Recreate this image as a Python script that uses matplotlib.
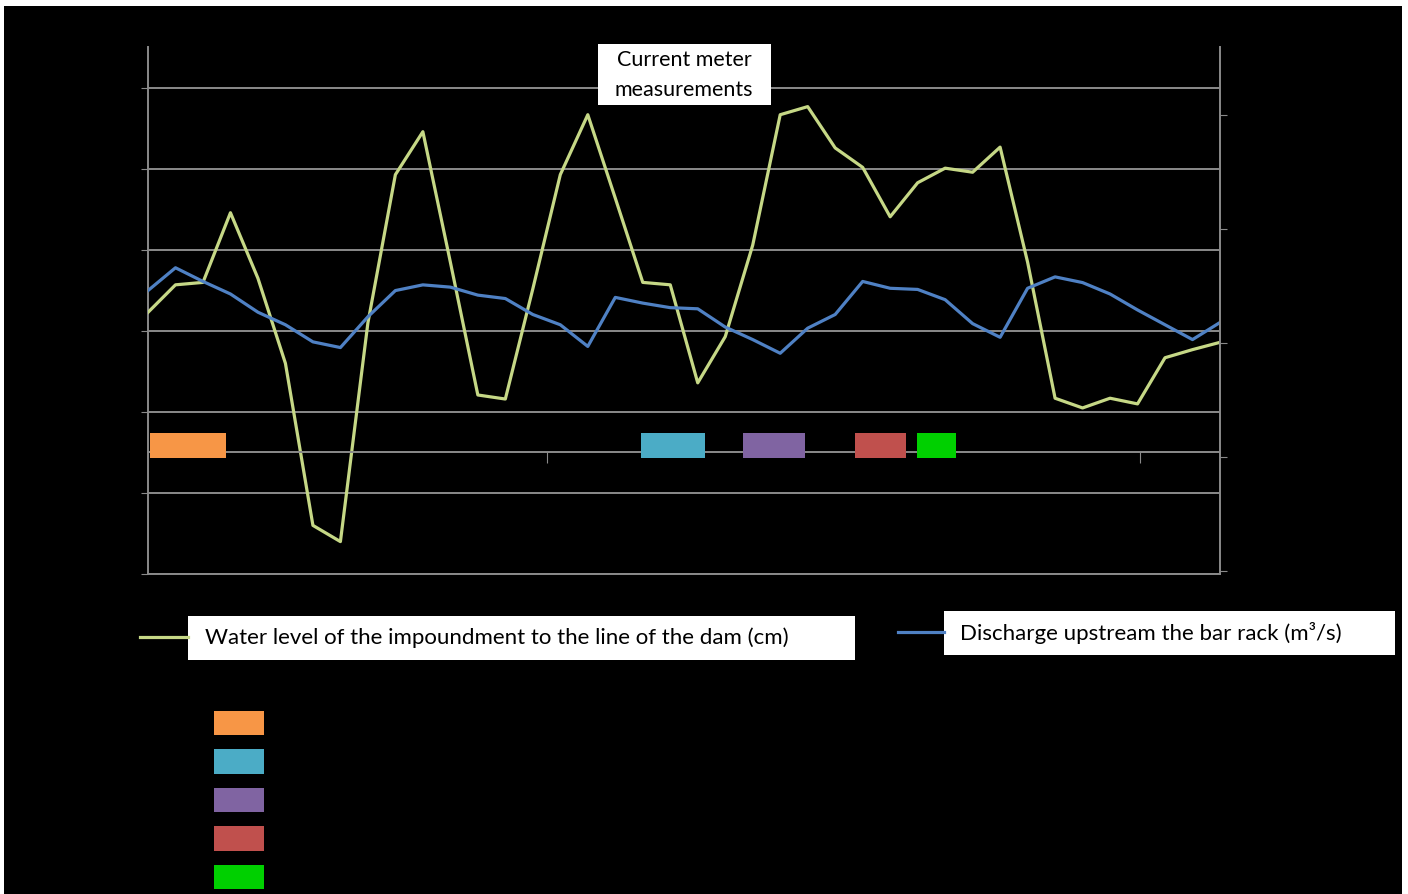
import matplotlib
matplotlib.use("Agg")
import matplotlib.pyplot as plt
from matplotlib.lines import Line2D
from matplotlib.patches import Patch, Rectangle
import numpy as np

plt.rcParams['font.family'] = ['Lato', 'DejaVu Sans']

# water level of the impoundment (left axis)
water_level = [32.3, 35.7, 36.0, 44.6, 36.5, 26.0, 6.0, 4.0, 31.0, 49.3,
               54.6, 38.5, 22.1, 21.6, 35.2, 49.3, 56.7, 46.4, 36.0, 35.7,
               23.6, 29.3, 40.6, 56.7, 57.7, 52.6, 50.2, 44.1, 48.3, 50.1,
               49.6, 52.7, 38.5, 21.7, 20.5, 21.7, 21.0, 26.7, 27.7, 28.6]
# discharge upstream the bar rack (right axis)
discharge = [2.46, 2.66, 2.54, 2.43, 2.27, 2.16, 2.01, 1.96, 2.23, 2.46,
             2.51, 2.49, 2.42, 2.39, 2.25, 2.16, 1.97, 2.40, 2.35, 2.31,
             2.30, 2.14, 2.03, 1.91, 2.13, 2.25, 2.54, 2.48, 2.47, 2.38,
             2.17, 2.05, 2.48, 2.58, 2.53, 2.43, 2.29, 2.16, 2.03, 2.18]

# measurement periods (start, length) on the same time index
period_start = [0.07, 17.93, 21.64, 25.72, 27.97]
period_len = [2.77, 2.33, 2.26, 1.85, 1.42]
period_colors = ['#f79646', '#4bacc6', '#8064a2', '#c0504d', '#00d000']
event_ticks = [14.5, 36.1]

green = '#c6d886'
blue = '#4f81c4'
grid_c = '#8a8a8a'

t = np.arange(len(water_level))

W, H = 1408, 894
fig = plt.figure(figsize=(W / 100, H / 100), dpi=100)
fig.patch.set_facecolor('white')


def fig_box(x0, y0, x1, y1, color, z):
    # box given in pixel coords from the top-left corner
    fig.patches.append(Rectangle((x0 / W, 1 - y1 / H), (x1 - x0) / W,
                                 (y1 - y0) / H, transform=fig.transFigure,
                                 facecolor=color, edgecolor='none', zorder=z))


fig_box(4, 6, 1402, 894, 'black', -10)

ax = fig.add_axes([148 / W, 1 - 574 / H, 1072 / W, 527 / H])
ax.set_facecolor('black')
ax.plot(t, water_level, color=green, lw=2.3, zorder=3)
ax.set_xlim(0, len(t) - 1)
ax.set_ylim(0, 65.06)
ax.set_yticks(np.arange(0, 61, 10))
ax.grid(axis='y', color=grid_c, lw=1.4)
ax.set_axisbelow(True)
ax.tick_params(axis='y', length=5, color=grid_c, labelleft=False)
ax.tick_params(axis='x', length=0, labelbottom=False)
for s in ['top', 'right']:
    ax.spines[s].set_visible(False)
for s in ['left', 'bottom']:
    ax.spines[s].set_color(grid_c)
    ax.spines[s].set_linewidth(1.4)

ax2 = ax.twinx()
ax2.plot(t, discharge, color=blue, lw=2.3)
ax2.set_ylim(-3 / 114, 524 / 114)
ax2.set_yticks([0, 1, 2, 3, 4])
ax2.tick_params(axis='y', length=5, color=grid_c, labelright=False)
for s in ['top', 'left', 'bottom']:
    ax2.spines[s].set_visible(False)
ax2.spines['right'].set_color(grid_c)
ax2.spines['right'].set_linewidth(1.4)

# third axis carrying the measurement periods
ax3 = ax.twiny()
ax3.set_xlim(ax.get_xlim())
ax3.spines['bottom'].set_position(('data', 15))
ax3.spines['bottom'].set_color(grid_c)
ax3.spines['bottom'].set_linewidth(1.4)
for s in ['top', 'left', 'right']:
    ax3.spines[s].set_visible(False)
ax3.xaxis.set_ticks_position('bottom')
ax3.set_xticks(event_ticks)
ax3.tick_params(axis='x', length=8, color=grid_c, labelbottom=False,
                labeltop=False)
ax3.broken_barh(list(zip(period_start, period_len)), (14.3, 3.1),
                facecolors=period_colors, zorder=4)

# white label boxes
fig_box(598, 44, 771, 105, 'white', 5)
fig_box(188, 616, 855, 660, 'white', 5)
fig_box(944, 611, 1395, 655, 'white', 5)

fig.text(684 / W, 1 - 75 / H, 'Current meter\nmeasurements',
         ha='center', va='center', fontsize=15.5, linespacing=1.6, zorder=10)

leg1 = fig.legend([Line2D([], [], color=green, lw=2.3)],
                  ['Water level of the impoundment to the line of the dam (cm)'],
                  loc='center left', bbox_to_anchor=(140 / W, 1 - 638 / H),
                  frameon=False, fontsize=16, handlelength=2.16,
                  handletextpad=0.77, borderpad=0, borderaxespad=0)
leg2 = fig.legend([Line2D([], [], color=blue, lw=2.3)],
                  ['Discharge upstream the bar rack (m³/s)'],
                  loc='center left', bbox_to_anchor=(898 / W, 1 - 633 / H),
                  frameon=False, fontsize=16, handlelength=2.07,
                  handletextpad=0.72, borderpad=0, borderaxespad=0)
for lg in (leg1, leg2):
    lg.set_zorder(10)

fig.legend([Patch(facecolor=c) for c in period_colors], [''] * 5,
           loc='upper left', bbox_to_anchor=(214 / W, 1 - 711 / H),
           frameon=False, fontsize=18, handlelength=2.0, handleheight=1.12,
           labelspacing=0.55, borderpad=0, borderaxespad=0, handletextpad=0.5)

fig.savefig('out.png', dpi=100, facecolor=fig.get_facecolor())
